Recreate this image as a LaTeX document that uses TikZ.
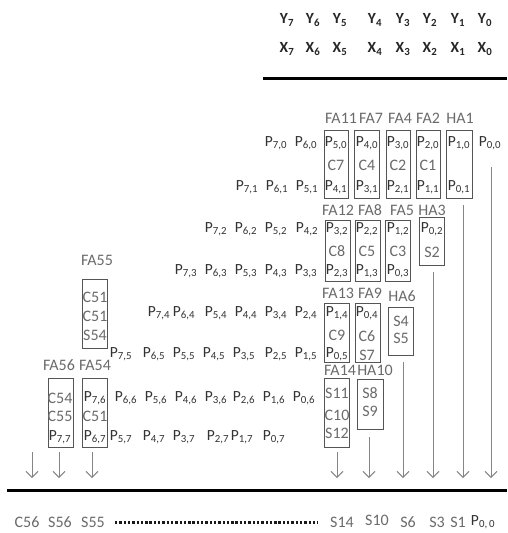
\documentclass[tikz,border=0pt]{standalone}
\usepackage{fontspec}
\setmainfont{Carlito}
\usetikzlibrary{arrows.meta}
\definecolor{txtgray}{HTML}{6A6A6A}
\definecolor{ptxt}{HTML}{333333}
\definecolor{boxgray}{HTML}{555555}
\definecolor{arrgray}{HTML}{858585}
\newcommand{\Psub}[1]{P\textsubscript{#1}}
\newcommand{\bx}[5]{\node[boxst,minimum width={#4-#2},minimum height={#5-#3}] (#1) at ({(#2+#4)/2},{(#3+#5)/2}) {};}
\tikzset{
  boxst/.style={draw=boxgray,line width=0.9pt,inner sep=0pt,rectangle},
  pn/.style={text=ptxt,inner sep=0pt,font=\fontsize{15.5}{17}\selectfont},
  gl/.style={text=txtgray,inner sep=0pt,font=\fontsize{16}{18}\selectfont},
  yx/.style={text=black!85,inner sep=0pt,font=\fontsize{15.5}{17}\selectfont\bfseries},
  arr/.style={draw=arrgray,line width=0.9pt,-{Straight Barb[length=6pt,width=12pt,line width=0.9pt]}},
  thickline/.style={line width=3pt,black}
}
\begin{document}
\begin{tikzpicture}[x=1pt,y=-1pt]
\useasboundingbox (0,0) rectangle (507,533);
% header
\foreach \i/\x in {7/287,6/313,5/340,4/375,3/403,2/430,1/458,0/485}{
  \node[yx] (y\i) at (\x,20) {Y\textsubscript{\i}};
  \node[yx] (x\i) at (\x,49) {X\textsubscript{\i}};
}
\coordinate (tl1) at (263,78); \coordinate (tl2) at (507,78);
\draw[thickline] (tl1) -- (tl2);
% boxes
\bx{bfa11}{324}{130}{348}{198}
\bx{bfa7}{354}{130}{379}{198}
\bx{bfa4}{386}{130}{410}{198}
\bx{bfa2}{416}{130}{440}{198}
\bx{bha1}{446}{130}{472}{198}
\bx{bfa12}{325}{220}{350}{281}
\bx{bfa8}{355}{220}{380}{281}
\bx{bfa5}{385}{220}{410}{281}
\bx{bha3}{419}{217}{444}{265}
\bx{bfa13}{324}{303}{349}{362}
\bx{bfa9}{355}{303}{380}{362}
\bx{bha6}{388}{307}{413}{355}
\bx{bfa14}{324}{378}{349}{447}
\bx{bha10}{357}{379}{383}{429}
\bx{bfa55}{82}{279}{107}{348}
\bx{bfa56}{48}{378}{73}{447}
\bx{bfa54}{82}{378}{107}{447}
% box labels
\node[gl] (lfa11) at (341,118) {FA11};
\node[gl] (lfa7) at (371,118) {FA7};
\node[gl] (lfa4) at (400,118) {FA4};
\node[gl] (lfa2) at (428,118) {FA2};
\node[gl] (lha1) at (460,118) {HA1};
\node[gl] (lfa12) at (338,210) {FA12};
\node[gl] (lfa8) at (370,210) {FA8};
\node[gl] (lfa5) at (402,210) {FA5};
\node[gl] (lha3) at (432,210) {HA3};
\node[gl] (lfa13) at (338,293) {FA13};
\node[gl] (lfa9) at (370,293) {FA9};
\node[gl] (lha6) at (402,296) {HA6};
\node[gl] (lfa14) at (340,370) {FA14};
\node[gl] (lha10) at (375,370) {HA10};
\node[gl] (lfa55) at (97,260) {FA55};
\node[gl] (lfa56) at (59,365) {FA56};
\node[gl] (lfa54) at (95,365) {FA54};
% partial products
\foreach \i/\x in {7/276,6/306,5/336,4/367,3/398,2/428,1/459,0/490}{\node[pn] (p\i0) at (\x,143) {\Psub{\i,0}};}
\foreach \i/\x in {7/247,6/277,5/307,4/336,3/367,2/398,1/428,0/459}{\node[pn] (p\i1) at (\x,187) {\Psub{\i,1}};}
\foreach \i/\x in {7/216,6/246,5/276,4/307,3/337,2/367,1/398,0/432}{\node[pn] (p\i2) at (\x,229) {\Psub{\i,2}};}
\foreach \i/\x in {7/186,6/216,5/246,4/276,3/306,2/337,1/367,0/398}{\node[pn] (p\i3) at (\x,271) {\Psub{\i,3}};}
\foreach \i/\x in {7/159,6/184,5/216,4/246,3/276,2/306,1/337,0/367}{\node[pn] (p\i4) at (\x,313) {\Psub{\i,4}};}
\foreach \i/\x in {7/121,6/154,5/184,4/214,3/244,2/276,1/306,0/337}{\node[pn] (p\i5) at (\x,354) {\Psub{\i,5}};}
\foreach \i/\x in {7/95,6/126,5/156,4/186,3/216,2/244,1/274,0/304}{\node[pn] (p\i6) at (\x,398) {\Psub{\i,6}};}
\foreach \i/\x in {7/60,6/95,5/121,4/154,3/184,2/218,1/242,0/274}{\node[pn] (p\i7) at (\x,437) {\Psub{\i,7}};}
% carries and sums inside boxes
\node[gl] (c7) at (336,165) {C7};
\node[gl] (c4) at (367,165) {C4};
\node[gl] (c2) at (398,165) {C2};
\node[gl] (c1) at (428,165) {C1};
\node[gl] (c8) at (337,251) {C8};
\node[gl] (c5) at (367,251) {C5};
\node[gl] (c3) at (398,251) {C3};
\node[gl] (s2) at (432,252) {S2};
\node[gl] (c9) at (337,335) {C9};
\node[gl] (c6) at (367,336) {C6};
\node[gl] (s7) at (367,355) {S7};
\node[gl] (s4) at (401,321) {S4};
\node[gl] (s5) at (401,338) {S5};
\node[gl] (s11) at (337,393) {S11};
\node[gl] (c10) at (337,415) {C10};
\node[gl] (s12) at (337,433) {S12};
\node[gl] (s8) at (370,393) {S8};
\node[gl] (s9) at (370,411) {S9};
\node[gl] (c51a) at (95,297) {C51};
\node[gl] (c51b) at (95,316) {C51};
\node[gl] (s54) at (95,335) {S54};
\node[gl] (c54) at (60,398) {C54};
\node[gl] (c55) at (60,416) {C55};
\node[gl] (c51c) at (95,416) {C51};
% arrows
\foreach \n/\x/\ys in {0/491/167,1/463/205,2/433/272,3/403/362,4/369/437,5/337/452,6/92/452,7/59/452,8/32/452}{
  \coordinate (as\n) at (\x,\ys);
  \coordinate (ae\n) at (\x,478);
  \draw[arr] (as\n) -- (ae\n);
}
% bottom line
\coordinate (bl1) at (7,490); \coordinate (bl2) at (507,490);
\draw[thickline] (bl1) -- (bl2);
% results
\node[gl] (rc56) at (27,522) {C56};
\node[gl] (rs56) at (60,522) {S56};
\node[gl] (rs55) at (93,522) {S55};
\coordinate (d1) at (115,522); \coordinate (d2) at (318,522);
\draw[line width=3pt,black!90,dash pattern=on 2.4pt off 1.9pt] (d1) -- (d2);
\node[gl] (rs14) at (342,522) {S14};
\node[gl] (rs10) at (377,520) {S10};
\node[gl] (rs6) at (408,522) {S6};
\node[gl] (rs3) at (437,522) {S3};
\node[gl] (rs1) at (458,522) {S1};
\node[pn] (rp00) at (483,522) {P\textsubscript{0,\,0}};
\end{tikzpicture}
\end{document}
